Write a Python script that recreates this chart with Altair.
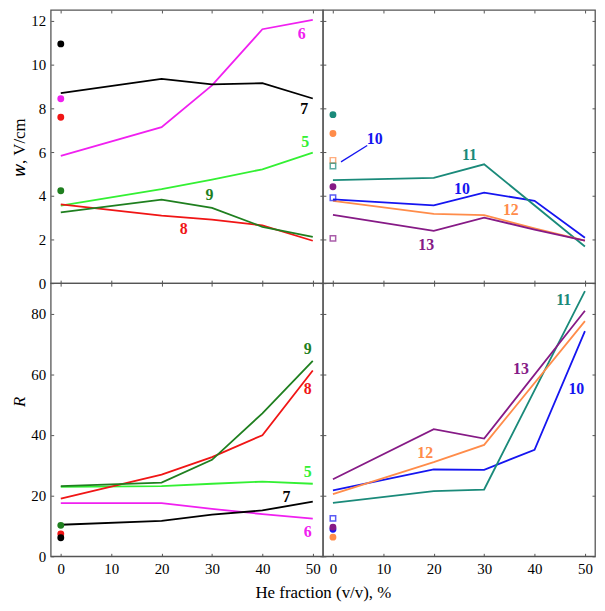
import altair as alt
import pandas as pd

# ---------------- data ----------------
X5 = [0, 20, 30, 40, 50]
X4 = [0, 20, 30, 50]

# top-left: w, V/cm
tl_lines = {
    "5": (X5, [3.55, 4.30, 4.74, 5.21, 5.97]),
    "6": (X5, [5.82, 7.14, 9.05, 11.62, 12.05]),
    "7": (X5, [8.70, 9.35, 9.10, 9.15, 8.45]),
    "8": (X5, [3.61, 3.09, 2.91, 2.64, 1.94]),
    "9": (X5, [3.24, 3.82, 3.44, 2.58, 2.12]),
}
tl_circles = {"7": 10.95, "6": 8.44, "8": 7.59, "9": 4.23}
tl_squares = {}
tl_labels = [("6", 47.8, 11.4), ("7", 48.3, 7.95), ("5", 48.5, 6.45),
             ("9", 29.5, 4.03), ("8", 24.4, 2.47)]

# top-right: w, V/cm
tr_lines = {
    "10": (X5, [3.83, 3.56, 4.14, 3.77, 2.08]),
    "11": (X4, [4.71, 4.82, 5.44, 1.68]),
    "12": (X5, [3.77, 3.17, 3.11, 2.51, 1.95]),
    "13": (X5, [3.12, 2.39, 3.00, 2.45, 1.95]),
}
tr_circles = {"11": 7.71, "12": 6.85, "13": 4.41}
tr_squares = {"12": 5.62, "11": 5.36, "10": 3.91, "13": 2.05}
tr_labels = [("11", 27.1, 5.85), ("10", 25.6, 4.30), ("12", 35.3, 3.35),
             ("13", 18.5, 1.76), ("10", 8.3, 6.6)]
tr_pointer = [("10", 1.6, 5.55, 6.8, 6.3)]

# bottom-left: R
bl_lines = {
    "5": (X5, [22.9, 23.1, 23.9, 24.6, 23.9]),
    "6": (X5, [17.5, 17.5, 15.6, 13.9, 12.4]),
    "7": (X5, [10.4, 11.7, 13.7, 15.1, 18.0]),
    "8": (X5, [19.0, 26.9, 32.7, 39.9, 61.2]),
    "9": (X5, [23.1, 24.3, 31.8, 47.1, 64.4]),
}
bl_circles = {"9": 10.2, "8": 7.4, "7": 6.1}
bl_squares = {}
bl_labels = [("9", 49.0, 68.2), ("8", 49.0, 55.2), ("5", 49.0, 27.8),
             ("7", 44.8, 19.4), ("6", 49.0, 8.0)]

# bottom-right: R
br_lines = {
    "10": (X5, [21.7, 28.6, 28.5, 35.1, 74.2]),
    "11": (X4, [17.6, 21.5, 22.0, 87.4]),
    "12": (X4, [20.5, 31.0, 36.7, 77.5]),
    "13": (X4, [25.4, 41.9, 38.8, 80.9]),
}
br_circles = {"10": 8.9, "13": 9.6, "12": 6.3}
br_squares = {"10": 12.5}
br_labels = [("11", 45.8, 84.5), ("13", 37.3, 61.7), ("10", 48.3, 55.0),
             ("12", 18.3, 34.1)]

series = ["5", "6", "7", "8", "9", "10", "11", "12", "13"]
colors = ["#33f033", "#f020f0", "#000000", "#f01515", "#1f7f1f",
          "#1515f0", "#1a8a7a", "#ff8c4a", "#861a86"]

x_ticks = [0, 10, 20, 30, 40, 50]
w_ticks = [0, 2, 4, 6, 8, 10, 12]
r_ticks = [0, 20, 40, 60, 80]

FONT = "Liberation Serif"
TICK = {"expr": "-3"}
PW = 274
cscale = alt.Scale(domain=series, range=colors)


def mk_axis(orient, values, labels, title=None, **kw):
    return alt.Axis(orient=orient, values=values, labels=labels, title=title,
                    tickSize=TICK, tickColor="#555555", tickWidth=1,
                    domain=False, grid=False, labelFlush=False,
                    labelFont=FONT, labelFontSize=15, labelColor="black",
                    labelPadding=8, titleFont=FONT, titleFontSize=17,
                    titleFontWeight="normal", titleColor="black", **kw)


def panel(lines, circles, squares, labels, ydom, yvals, left_labels,
          bottom_labels, ytitle=None, xtitle=None, pointer=None, ykw=None, xkw=None):
    xs = alt.Scale(domain=[-2, 52], nice=False, zero=False)
    ys = alt.Scale(domain=ydom, nice=False, zero=False)
    color = alt.Color("s:N", scale=cscale, legend=None)

    rows = []
    for s, (xv, yv) in lines.items():
        for a, b in zip(xv, yv):
            rows.append({"s": s, "x": a, "y": b})
    dl = pd.DataFrame(rows)
    dc = pd.DataFrame([{"s": s, "x": 0, "y": v} for s, v in circles.items()])
    dlab = pd.DataFrame([{"s": s, "t": s, "x": a, "y": b} for s, a, b in labels])

    line = alt.Chart(dl).mark_line(strokeWidth=1.8).encode(
        x=alt.X("x:Q", scale=xs,
                axis=mk_axis("bottom", x_ticks, bottom_labels, xtitle, **(xkw or {}))),
        y=alt.Y("y:Q", scale=ys,
                axis=mk_axis("left", yvals, left_labels, ytitle, **(ykw or {}))),
        color=color, order="x:Q")
    circ = alt.Chart(dc).mark_circle(size=48, opacity=1).encode(
        x=alt.X("x:Q", scale=xs, axis=mk_axis("top", x_ticks, False)),
        y=alt.Y("y:Q", scale=ys, axis=mk_axis("right", yvals, False, minExtent=0)),
        color=color)
    layers = [line, circ]
    if squares:
        dsq = pd.DataFrame([{"s": s, "x": 0, "y": v} for s, v in squares.items()])
        layers.append(alt.Chart(dsq).mark_square(filled=False, size=30, strokeWidth=1.5).encode(
            x=alt.X("x:Q", scale=xs, axis=None),
            y=alt.Y("y:Q", scale=ys, axis=None), color=color))
    if pointer:
        dp = pd.DataFrame([{"s": s, "x": a, "y": b, "x2": c, "y2": d}
                           for s, a, b, c, d in pointer])
        layers.append(alt.Chart(dp).mark_rule(strokeWidth=1.3).encode(
            x=alt.X("x:Q", scale=xs, axis=None), x2="x2:Q",
            y=alt.Y("y:Q", scale=ys, axis=None), y2="y2:Q", color=color))
    layers.append(alt.Chart(dlab).mark_text(font=FONT, fontSize=16, fontWeight="bold").encode(
        x=alt.X("x:Q", scale=xs, axis=None),
        y=alt.Y("y:Q", scale=ys, axis=None),
        text="t:N", color=color))
    return alt.layer(*layers).resolve_axis(x="independent", y="independent").properties(
        width=PW, height=275)


TL = panel(tl_lines, tl_circles, tl_squares, tl_labels, [0, 12.5], w_ticks, True, False,
           ytitle="𝑤, V/cm", ykw={"titlePadding": 2})
TR = panel(tr_lines, tr_circles, tr_squares, tr_labels, [0, 12.5], w_ticks, False, False,
           pointer=tr_pointer)
BL = panel(bl_lines, bl_circles, bl_squares, bl_labels, [0, 90], r_ticks, True, True,
           ytitle="R", xtitle="He fraction (v/v), %",
           ykw={"titleFontStyle": "italic", "titlePadding": 2, "titleY": 119},
           xkw={"titleX": PW, "titleAlign": "center", "titlePadding": 8})
BR = panel(br_lines, br_circles, br_squares, br_labels, [0, 90], r_ticks, False, True)

chart = alt.concat(TL, TR, BL, BR, columns=2, spacing=0, bounds="flush").configure_view(
    stroke="#555555", strokeWidth=1.3
).properties(padding={"left": 2, "top": -2, "right": 0, "bottom": 0})

chart.save("out.html", embed_options={"renderer": "svg", "actions": False})
